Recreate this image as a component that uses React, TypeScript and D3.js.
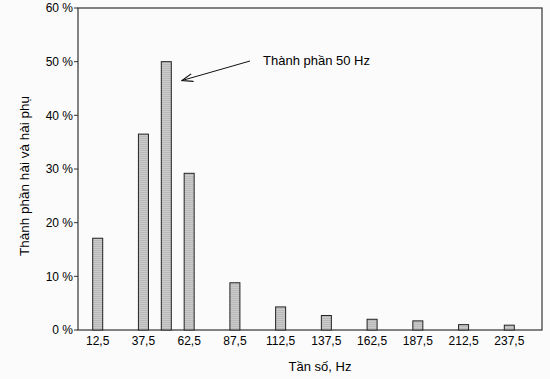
import React from "react";
import * as d3 from "d3";

const frequencies = [12.5, 37.5, 50, 62.5, 87.5, 112.5, 137.5, 162.5, 187.5, 212.5, 237.5];
const amplitudes = [17.1, 36.5, 50, 29.2, 8.8, 4.3, 2.7, 2.0, 1.7, 1.0, 0.9];
const xTickValues = [12.5, 37.5, 62.5, 87.5, 112.5, 137.5, 162.5, 187.5, 212.5, 237.5];
const yTickValues = [0, 10, 20, 30, 40, 50, 60];
const annotationText = "Thành phần 50 Hz";
const yTitle = "Thành phần hài và hài phụ";
const xTitle = "Tần số, Hz";

const W = 550;
const H = 379;
const plotLeft = 78;
const plotRight = 542;
const plotTop = 8;
const plotBottom = 330;
const barW = 10;
const font = "Liberation Sans, Arial, sans-serif";

export default function App() {
  const x = d3.scaleLinear().domain([12.5, 237.5]).range([97.7, 509.3]);
  const y = d3.scaleLinear().domain([0, 60]).range([plotBottom, plotTop]);
  const fmt = (v: number) => String(v).replace(".", ",");

  return (
    <svg
      width={W}
      height={H}
      style={{ position: "absolute", left: 0, top: 0, background: "#fbfbfb" }}
      fontFamily={font}
    >
      <defs>
        <pattern id="hatch" width="4" height="2" patternUnits="userSpaceOnUse">
          <rect width="4" height="2" fill="#cbcbcb" />
          <rect width="4" height="1" fill="#b9b9b9" />
        </pattern>
        <marker
          id="arrow"
          viewBox="0 0 12 10"
          refX="11"
          refY="5"
          markerWidth="12"
          markerHeight="10"
          markerUnits="userSpaceOnUse"
          orient="auto"
        >
          <path d="M0,1 L11,5 L0,9" fill="none" stroke="#111" strokeWidth="1.2" />
        </marker>
      </defs>
      {/* frame */}
      <rect
        x={plotLeft}
        y={plotTop}
        width={plotRight - plotLeft}
        height={plotBottom - plotTop}
        fill="none"
        stroke="#333"
        strokeWidth={1.2}
      />
      {/* y ticks */}
      {yTickValues.map((t) => (
        <g key={t}>
          <line x1={plotLeft - 4} x2={plotLeft} y1={y(t)} y2={y(t)} stroke="#333" strokeWidth={1} />
          <text x={73} y={y(t)} dy="0.35em" textAnchor="end" fontSize={12} fill="#000">
            {t} %
          </text>
        </g>
      ))}
      {/* bars */}
      {frequencies.map((f, i) => (
        <rect
          key={f}
          x={x(f) - barW / 2}
          y={y(amplitudes[i])}
          width={barW}
          height={plotBottom - y(amplitudes[i])}
          fill="url(#hatch)"
          stroke="#222"
          strokeWidth={1}
        />
      ))}
      {/* x tick labels */}
      {xTickValues.map((t) => (
        <text key={t} x={x(t)} y={345} textAnchor="middle" fontSize={12} fill="#000">
          {fmt(t)}
        </text>
      ))}
      {/* annotation */}
      <line x1={250} y1={61} x2={182} y2={80.5} stroke="#111" strokeWidth={1} markerEnd="url(#arrow)" />
      <text x={263} y={65} fontSize={13} fill="#000">
        {annotationText}
      </text>
      {/* axis titles */}
      <text
        transform={`translate(29,${(95 + 257) / 2}) rotate(-90)`}
        textAnchor="middle"
        fontSize={13.5}
        fill="#000"
      >
        {yTitle}
      </text>
      <text x={320} y={371} textAnchor="middle" fontSize={13} fill="#000">
        {xTitle}
      </text>
    </svg>
  );
}
